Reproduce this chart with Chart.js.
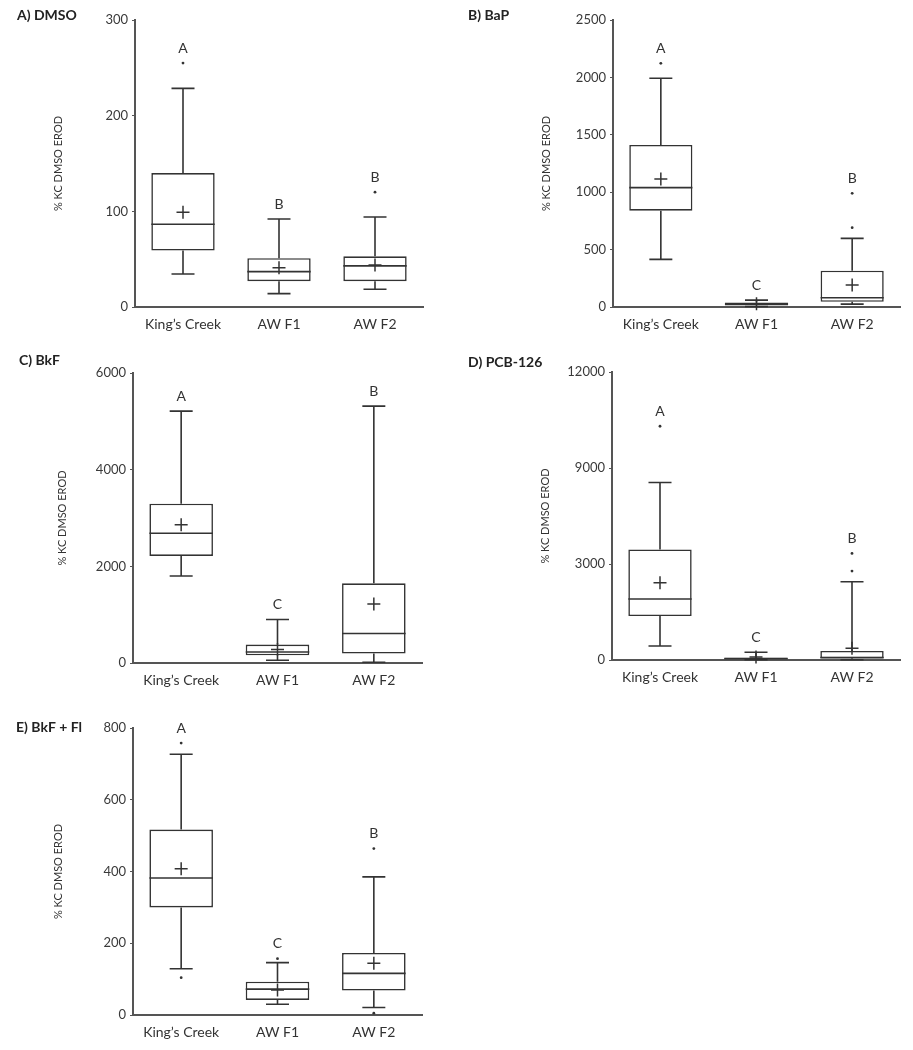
<!DOCTYPE html>
<html>
<head>
<meta charset="utf-8">
<script src="https://cdn.jsdelivr.net/npm/chart.js@4.4.1/dist/chart.umd.min.js"></script>
<style>
  html, body { margin: 0; padding: 0; background: #fff; }
  body { width: 913px; height: 1050px; position: relative; overflow: hidden; }
  .panel { position: absolute; }
</style>
</head>
<body>
<div class="panel" style="left:0px;top:0px"><canvas id="cA" width="456" height="340"></canvas></div>
<div class="panel" style="left:456px;top:0px"><canvas id="cB" width="457" height="340"></canvas></div>
<div class="panel" style="left:0px;top:340px"><canvas id="cC" width="456" height="350"></canvas></div>
<div class="panel" style="left:456px;top:340px"><canvas id="cD" width="457" height="350"></canvas></div>
<div class="panel" style="left:0px;top:690px"><canvas id="cE" width="456" height="360"></canvas></div>
<script>
// ---------------- DATA ----------------
const categories = ["King\u2019s Creek", "AW F1", "AW F2"];
const yAxisTitle = "% KC DMSO EROD";

// A) DMSO
const dmsoMin  = [34.5, 14, 18.5];
const dmsoQ1   = [59, 27, 27];
const dmsoMed  = [86.5, 37, 43];
const dmsoQ3   = [140, 51, 53];
const dmsoMax  = [228.5, 92, 94];
const dmsoMean = [99, 41, 44];
const dmsoOutliers = [[255], [], [120]];
const dmsoLetters = ["A", "B", "B"];
const dmsoTicks = ["0", "100", "200", "300"];

// B) BaP
const bapMin  = [415, 5, 25];
const bapQ1   = [839, 12, 45];
const bapMed  = [1040, 25, 80];
const bapQ3   = [1411, 40, 316];
const bapMax  = [1992, 60, 598];
const bapMean = [1115, 28, 192];
const bapOutliers = [[2123], [], [691, 990]];
const bapLetters = ["A", "C", "B"];
const bapTicks = ["0", "500", "1000", "1500", "2000", "2500"];

// C) BkF
const bkfMin  = [1800, 56, 15];
const bkfQ1   = [2215, 160, 195];
const bkfMed  = [2686, 228, 610];
const bkfQ3   = [3295, 382, 1648];
const bkfMax  = [5211, 900, 5315];
const bkfMean = [2859, 278, 1219];
const bkfOutliers = [[], [], []];
const bkfLetters = ["A", "C", "B"];
const bkfTicks = ["0", "2000", "4000", "6000"];

// D) PCB-126 (axis printed with evenly spaced labels 0, 3000, 9000, 12000)
const pcbMin  = [583, 10, 10];
const pcbQ1   = [1831, 30, 70];
const pcbMed  = [2539, 60, 100];
const pcbQ3   = [4607, 90, 375];
const pcbMax  = [7396, 320, 3260];
const pcbMean = [3218, 120, 487];
const pcbOutliers = [[9740], [], [3704, 4441]];
const pcbLetters = ["A", "C", "B"];
const pcbTicks = ["0", "3000", "9000", "12000"];

// E) BkF + Fl
const bkfflMin  = [129, 30, 21];
const bkfflQ1   = [300, 42, 68];
const bkfflMed  = [382, 72, 116];
const bkfflQ3   = [517, 93, 173];
const bkfflMax  = [727, 146, 385];
const bkfflMean = [408, 70, 144];
const bkfflOutliers = [[104, 758], [157], [5, 464]];
const bkfflLetters = ["A", "C", "B"];
const bkfflTicks = ["0", "200", "400", "600", "800"];

// ---------------- STYLE ----------------
const LINE = "#333333";
const AXIS = "#555555";
const TEXT = "#333333";
const FONT = "Lato, 'Open Sans', sans-serif";

const panelData = {};

const boxPlugin = {
  id: "boxExtras",
  beforeDatasetsDraw(chart) {
    const d = panelData[chart.canvas.id];
    if (!d) return;
    const xs = chart.scales.x, ys = chart.scales.y;
    const ctx = chart.ctx;
    ctx.save();
    ctx.strokeStyle = LINE;
    ctx.lineWidth = 1.6;
    const cap = 11.5;
    for (let i = 0; i < categories.length; i++) {
      const x = xs.getPixelForValue(i);
      const yMax = ys.getPixelForValue(d.max[i]);
      const yQ3 = ys.getPixelForValue(d.q3[i]);
      const yQ1 = ys.getPixelForValue(d.q1[i]);
      const yMin = ys.getPixelForValue(d.min[i]);
      ctx.beginPath();
      ctx.moveTo(x, yQ3); ctx.lineTo(x, yMax);
      ctx.moveTo(x - cap, yMax); ctx.lineTo(x + cap, yMax);
      ctx.moveTo(x, yQ1); ctx.lineTo(x, yMin);
      ctx.moveTo(x - cap, yMin); ctx.lineTo(x + cap, yMin);
      ctx.stroke();
    }
    ctx.restore();
  },
  afterDatasetDraw(chart, args) {
    // median line drawn over the box bar
    if (args.index !== 0) return;
    const d = panelData[chart.canvas.id];
    if (!d) return;
    const ys = chart.scales.y;
    const ctx = chart.ctx;
    const meta = chart.getDatasetMeta(0);
    ctx.save();
    ctx.strokeStyle = LINE;
    ctx.lineWidth = 1.6;
    meta.data.forEach((bar, i) => {
      const half = bar.width / 2;
      const y = ys.getPixelForValue(d.med[i]);
      ctx.beginPath();
      ctx.moveTo(bar.x - half, y);
      ctx.lineTo(bar.x + half, y);
      ctx.stroke();
    });
    ctx.restore();
  },
  afterDraw(chart) {
    const d = panelData[chart.canvas.id];
    if (!d) return;
    const xs = chart.scales.x, ys = chart.scales.y;
    const ctx = chart.ctx;
    ctx.save();
    ctx.fillStyle = TEXT;
    ctx.textAlign = "center";
    ctx.textBaseline = "middle";
    ctx.font = "14px " + FONT;
    for (let i = 0; i < categories.length; i++) {
      const top = Math.max(d.max[i], ...d.outliers[i]);
      const x = xs.getPixelForValue(i);
      ctx.fillText(d.letters[i], x, ys.getPixelForValue(top) - 15);
    }
    ctx.textAlign = "left";
    ctx.font = "bold 14px " + FONT;
    ctx.fillStyle = "#222";
    ctx.fillText(d.title, d.titleX, d.titleY);
    ctx.restore();
  }
};

function makePanel(id, L, d) {
  panelData[id] = d;
  const box = categories.map((c, i) => [d.q1[i], d.q3[i]]);
  const outPts = [];
  d.outliers.forEach((arr, i) => arr.forEach(v => outPts.push({ x: categories[i], y: v })));
  return new Chart(document.getElementById(id), {
    data: {
      labels: categories,
      datasets: [
        { type: "bar", data: box, backgroundColor: "#ffffff", borderColor: LINE, borderWidth: 1.6,
          borderSkipped: false, grouped: false, barPercentage: 0.66, categoryPercentage: 1, order: 2 },
        { type: "line", data: d.mean, showLine: false, pointStyle: "cross", pointRadius: 6.5,
          pointBorderWidth: 1.5, borderColor: LINE, backgroundColor: LINE, order: 0, clip: false },
        { type: "line", data: outPts, showLine: false, pointStyle: "circle", pointRadius: 1.4,
          pointBorderWidth: 0, borderColor: LINE, backgroundColor: LINE, order: 0, clip: false }
      ]
    },
    options: {
      responsive: false,
      animation: false,
      events: [],
      layout: { padding: { left: 0, top: L.top, right: L.w - L.right, bottom: 0 } },
      plugins: { legend: { display: false }, tooltip: { enabled: false } },
      scales: {
        x: {
          type: "category",
          offset: true,
          grid: { display: true, drawOnChartArea: false, drawTicks: false },
          border: { display: true, color: AXIS, width: 2 },
          ticks: { color: TEXT, font: { family: FONT, size: 14 }, padding: 9, maxRotation: 0 },
          afterFit: s => { s.height = L.h - L.bottom; }
        },
        y: {
          type: "linear",
          min: 0, max: d.yMax,
          grid: { display: true, drawOnChartArea: false, drawTicks: true, tickLength: 3, color: AXIS, lineWidth: 1 },
          border: { display: true, color: AXIS, width: 2 },
          ticks: {
            stepSize: d.yMax / (d.ticks.length - 1),
            color: "#3a3a3a",
            font: { family: FONT, size: 13 },
            padding: 4,
            callback: (v, i) => d.ticks[i]
          },
          title: {
            display: true, text: yAxisTitle, color: TEXT,
            font: { family: FONT, size: 11 },
            padding: { top: L.yTitleX - 6.6, bottom: 0 }
          },
          afterFit: s => { s.width = L.axisX; }
        }
      }
    },
    plugins: [boxPlugin]
  });
}

makePanel("cA", { w: 456, h: 340, axisX: 135, top: 20, bottom: 307, right: 423, yTitleX: 58 },
  { min: dmsoMin, q1: dmsoQ1, med: dmsoMed, q3: dmsoQ3, max: dmsoMax, mean: dmsoMean,
    outliers: dmsoOutliers, letters: dmsoLetters, ticks: dmsoTicks, yMax: 300,
    title: "A) DMSO", titleX: 17, titleY: 15 });

makePanel("cB", { w: 457, h: 340, axisX: 157, top: 20, bottom: 307, right: 444, yTitleX: 90 },
  { min: bapMin, q1: bapQ1, med: bapMed, q3: bapQ3, max: bapMax, mean: bapMean,
    outliers: bapOutliers, letters: bapLetters, ticks: bapTicks, yMax: 2500,
    title: "B) BaP", titleX: 12, titleY: 15 });

makePanel("cC", { w: 456, h: 350, axisX: 133, top: 33, bottom: 323, right: 422, yTitleX: 62 },
  { min: bkfMin, q1: bkfQ1, med: bkfMed, q3: bkfQ3, max: bkfMax, mean: bkfMean,
    outliers: bkfOutliers, letters: bkfLetters, ticks: bkfTicks, yMax: 6000,
    title: "C) BkF", titleX: 19, titleY: 20 });

makePanel("cD", { w: 457, h: 350, axisX: 156, top: 32, bottom: 320, right: 444, yTitleX: 89 },
  { min: pcbMin, q1: pcbQ1, med: pcbMed, q3: pcbQ3, max: pcbMax, mean: pcbMean,
    outliers: pcbOutliers, letters: pcbLetters, ticks: pcbTicks, yMax: 12000,
    title: "D) PCB-126", titleX: 12, titleY: 22 });

makePanel("cE", { w: 456, h: 360, axisX: 133, top: 38, bottom: 325, right: 422, yTitleX: 58 },
  { min: bkfflMin, q1: bkfflQ1, med: bkfflMed, q3: bkfflQ3, max: bkfflMax, mean: bkfflMean,
    outliers: bkfflOutliers, letters: bkfflLetters, ticks: bkfflTicks, yMax: 800,
    title: "E) BkF + Fl", titleX: 16, titleY: 37 });
</script>
</body>
</html>
